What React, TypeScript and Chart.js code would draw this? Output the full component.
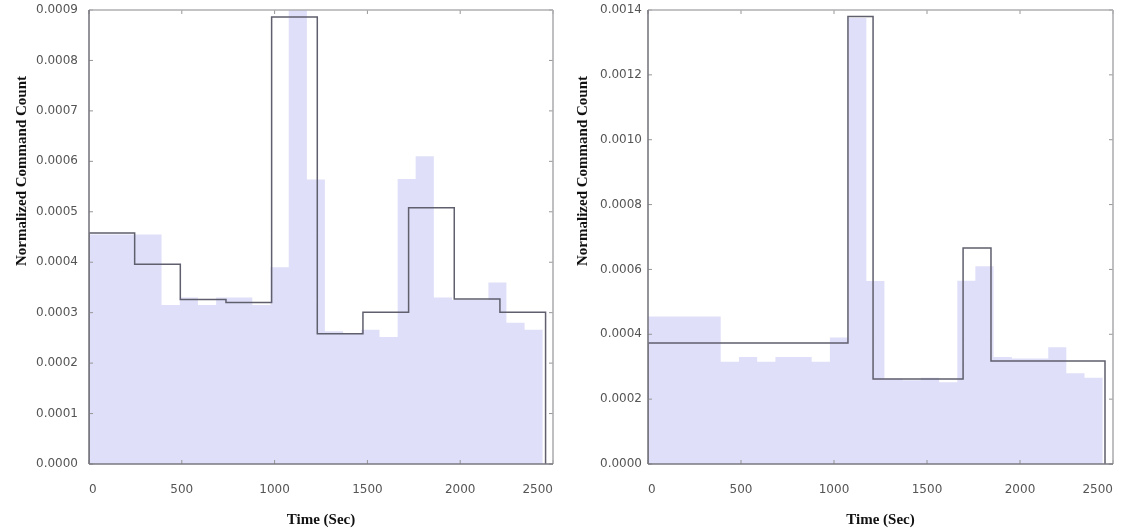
import React, { useEffect, useRef } from "react";
import { Chart, registerables } from "chart.js";

Chart.register(...registerables);

// Fine histogram (shared by both panels)
const blueEdges = [0, 98, 196, 293, 391, 489, 587, 685, 782, 880, 978, 1076, 1174, 1271, 1369, 1467, 1565, 1663, 1760, 1858, 1956, 2054, 2152, 2249, 2347, 2445];
const blueValues = [0.000455, 0.000455, 0.000455, 0.000455, 0.000315, 0.00033, 0.000315, 0.00033, 0.00033, 0.000315, 0.00039, 0.001375, 0.000564, 0.000263, 0.000258, 0.000266, 0.000252, 0.000565, 0.00061, 0.00033, 0.000325, 0.000325, 0.00036, 0.00028, 0.000266];

// Left panel step outline
const leftStepEdges = [0, 246, 492, 738, 984, 1230, 1476, 1722, 1968, 2214, 2460];
const leftStepValues = [0.000458, 0.000396, 0.000326, 0.00032, 0.000886, 0.000258, 0.000301, 0.000508, 0.000327, 0.000301];

// Right panel step outline
const rightStepEdges = [0, 1075, 1210, 1694, 1844, 2457];
const rightStepValues = [0.000373, 0.00138, 0.000262, 0.000666, 0.000318];

const xTicks = [0, 500, 1000, 1500, 2000, 2500];
const leftYTicks = [0, 0.0001, 0.0002, 0.0003, 0.0004, 0.0005, 0.0006, 0.0007, 0.0008, 0.0009];
const rightYTicks = [0, 0.0002, 0.0004, 0.0006, 0.0008, 0.001, 0.0012, 0.0014];

const xTitle = "Time (Sec)";
const yTitle = "Normalized Command Count";

function stepPoints(edges: number[], values: number[]) {
  const pts: { x: number; y: number }[] = [{ x: edges[0], y: 0 }];
  values.forEach((v, i) => pts.push({ x: edges[i], y: v }));
  pts.push({ x: edges[edges.length - 1], y: values[values.length - 1] });
  pts.push({ x: edges[edges.length - 1], y: 0 });
  return pts;
}

type PanelProps = {
  width: number;
  height: number;
  yMax: number;
  yTicks: number[];
  stepEdges: number[];
  stepValues: number[];
  axisWidth: number;
  padRight: number;
  yTickPad: number;
  yTitleX: number;
  yTitleY: number;
};

function Panel(p: PanelProps) {
  const ref = useRef<HTMLCanvasElement | null>(null);
  useEffect(() => {
    if (!ref.current) return;
    const framePlugin = {
      id: "frame",
      afterDatasetsDraw(chart: any) {
        const { ctx, chartArea, scales } = chart;
        const { left, right, top, bottom } = chartArea;
        ctx.save();
        ctx.lineWidth = 1;
        ctx.strokeStyle = "rgb(150,150,150)";
        const seg = (x1: number, y1: number, x2: number, y2: number) => {
          ctx.beginPath();
          ctx.moveTo(x1, y1);
          ctx.lineTo(x2, y2);
          ctx.stroke();
        };
        scales.x.ticks.forEach((t: any) => {
          const px = scales.x.getPixelForValue(t.value);
          seg(px, bottom, px, bottom - 4);
          seg(px, top, px, top + 4);
        });
        scales.y.ticks.forEach((t: any) => {
          const py = scales.y.getPixelForValue(t.value);
          seg(left, py, left + 4, py);
          seg(right, py, right - 4, py);
        });
        ctx.lineWidth = 1.6;
        ctx.strokeStyle = "rgb(175,175,178)";
        seg(left, top, right, top);
        seg(right, top, right, bottom);
        ctx.strokeStyle = "rgb(120,120,128)";
        seg(left, top, left, bottom);
        seg(left, bottom, right, bottom);
        ctx.restore();
      },
      afterDraw(chart: any) {
        const { ctx } = chart;
        ctx.save();
        ctx.translate(p.yTitleX, p.yTitleY);
        ctx.rotate(-Math.PI / 2);
        ctx.font = "bold 15px 'Liberation Serif', 'DejaVu Serif', serif";
        ctx.fillStyle = "#111";
        ctx.textAlign = "center";
        ctx.textBaseline = "middle";
        ctx.fillText(yTitle, 0, 0);
        ctx.restore();
      },
    };

    const chart = new Chart(ref.current, {
      type: "line",
      data: {
        datasets: [
          {
            label: "coarse",
            data: stepPoints(p.stepEdges, p.stepValues),
            stepped: true,
            borderColor: "rgb(95,95,110)",
            borderWidth: 1.5,
            pointRadius: 0,
            fill: false,
            order: 0,
          },
          {
            label: "fine",
            data: stepPoints(blueEdges, blueValues),
            stepped: true,
            borderColor: "rgba(0,0,0,0)",
            borderWidth: 0,
            backgroundColor: "rgb(223,223,249)",
            pointRadius: 0,
            fill: "origin",
            order: 1,
          },
        ],
      },
      options: {
        responsive: false,
        animation: false,
        layout: { padding: { left: 0, top: 10, right: p.padRight, bottom: 0 } },
        plugins: { legend: { display: false }, tooltip: { enabled: false } },
        scales: {
          x: {
            type: "linear",
            min: 0,
            max: 2500,
            grid: { display: false, drawTicks: false },
            border: { display: false },
            afterBuildTicks: (scale: any) => {
              scale.ticks = xTicks.map((v) => ({ value: v }));
            },
            afterFit: (scale: any) => {
              scale.height = 67;
              scale.paddingLeft = 0;
              scale.paddingRight = 0;
            },
            ticks: {
              padding: 19,
              align: "inner",
              color: "#555",
              font: { family: "'DejaVu Sans', sans-serif", size: 12 },
              maxRotation: 0,
              autoSkip: false,
              callback: (v: any) => String(v),
            },
            title: {
              display: true,
              text: xTitle,
              color: "#111",
              font: { family: "'Liberation Serif', 'DejaVu Serif', serif", size: 15, weight: "bold" },
              padding: { top: 0, bottom: 2 },
            },
          },
          y: {
            type: "linear",
            min: 0,
            max: p.yMax,
            grid: { display: false, drawTicks: false },
            border: { display: false },
            afterBuildTicks: (scale: any) => {
              scale.ticks = p.yTicks.map((v) => ({ value: v }));
            },
            afterFit: (scale: any) => {
              scale.width = p.axisWidth;
              scale.paddingTop = 0;
              scale.paddingBottom = 0;
            },
            ticks: {
              padding: p.yTickPad,
              color: "#555",
              font: { family: "'DejaVu Sans', sans-serif", size: 12 },
              autoSkip: false,
              callback: (v: any) => Number(v).toFixed(4),
            },
          },
        },
      },
      plugins: [framePlugin],
    } as any);
    return () => chart.destroy();
  }, []);
  return <canvas ref={ref} width={p.width} height={p.height} style={{ display: "block" }} />;
}

export default function App() {
  return (
    <div
      style={{
        position: "fixed",
        left: 0,
        top: 0,
        width: 1122,
        height: 531,
        background: "#fff",
        display: "flex",
      }}
    >
      <Panel
        width={560}
        height={531}
        yMax={0.0009}
        yTicks={leftYTicks}
        stepEdges={leftStepEdges}
        stepValues={leftStepValues}
        axisWidth={89}
        padRight={7}
        yTickPad={11}
        yTitleX={22}
        yTitleY={171}
      />
      <Panel
        width={562}
        height={531}
        yMax={0.0014}
        yTicks={rightYTicks}
        stepEdges={rightStepEdges}
        stepValues={rightStepValues}
        axisWidth={88}
        padRight={9}
        yTickPad={6}
        yTitleX={23}
        yTitleY={171}
      />
    </div>
  );
}
